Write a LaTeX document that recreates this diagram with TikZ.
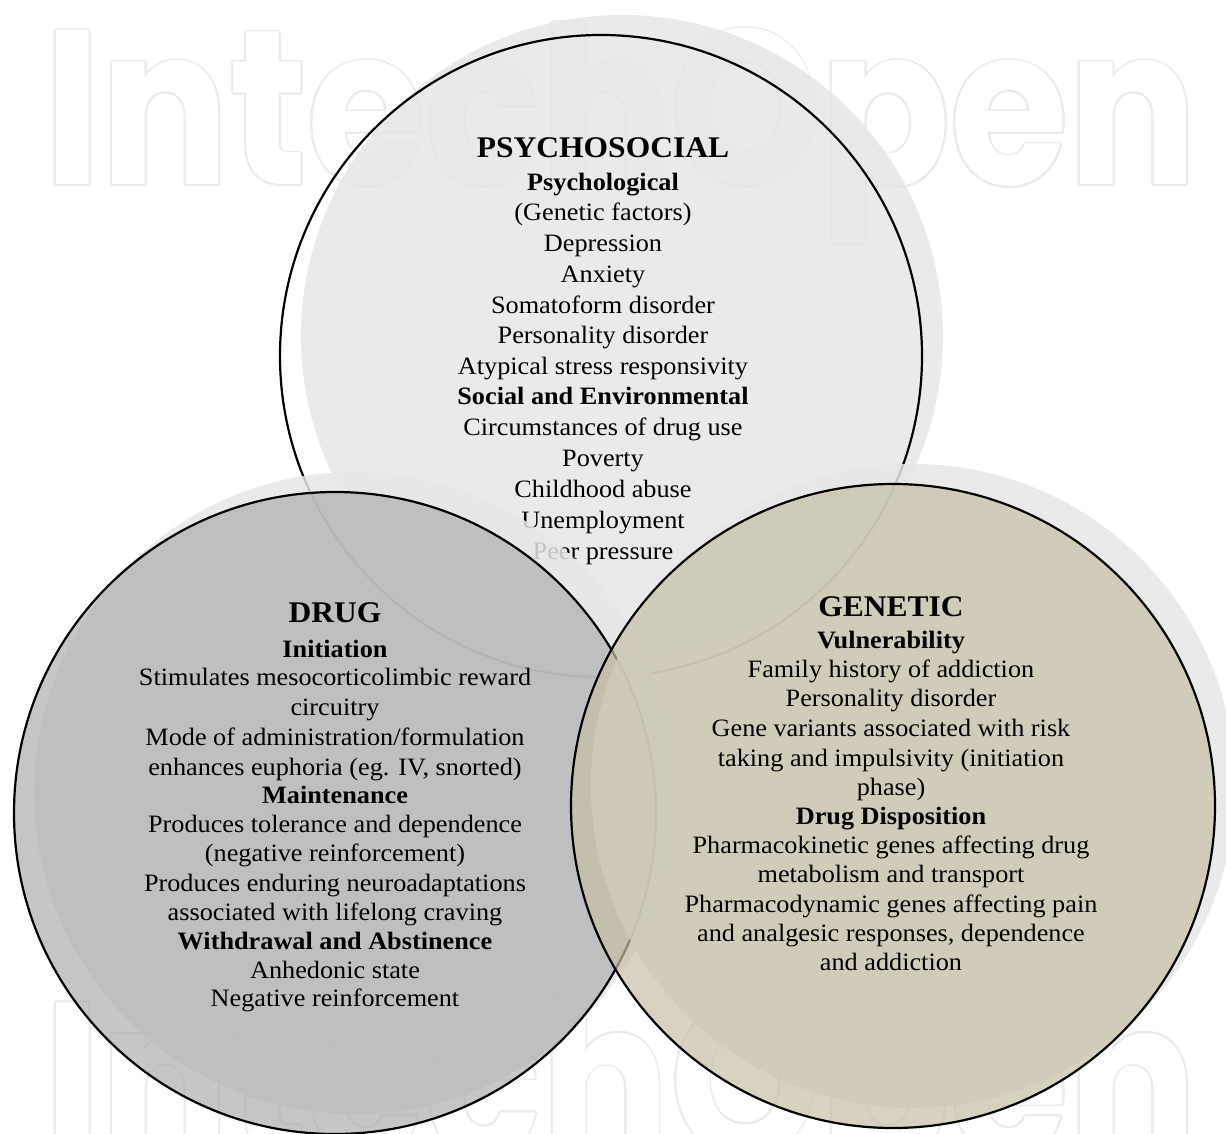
\documentclass[tikz,border=0pt]{standalone}
\usepackage{fontspec}
\setmainfont{Liberation Serif}[FakeStretch=1.05]
\newfontfamily\wmfont{Poppins}[FakeStretch=0.87]
\definecolor{wmline}{HTML}{EAEAEA}
\definecolor{shadowc}{HTML}{E6E6E6}
\definecolor{drugc}{HTML}{AEAEAE}
\definecolor{genc}{HTML}{C6C0A5}
\tikzset{
  body/.style={font=\fontsize{25}{30}\selectfont, inner sep=0pt, anchor=mid},
  circline/.style={draw=black, line width=2.2pt},
  shadowfill/.style={fill=shadowc, fill opacity=0.85},
  wm/.style={font=\wmfont\bfseries\fontsize{220}{220}\selectfont, anchor=base west, inner sep=0pt},
}
\newcommand\hd{\fontsize{30}{30}\selectfont\bfseries}
\begin{document}
\begin{tikzpicture}[x=1pt,y=-1pt]
\useasboundingbox (0,0) rectangle (1226,1134);
\clip (0,0) rectangle (1226,1134);
% watermark: outlined letters (light copies, then a white copy on top)
\foreach \b [count=\k] in {185,1157}{
  \foreach \a [count=\j] in {0,30,...,330}
    \node[wm, text=wmline, xshift={1.8*cos(\a)}, yshift={1.8*sin(\a)}] (wm\k-\j) at (44,\b) {IntechOpen};
  \node[wm, text=white] (wm\k) at (44,\b) {IntechOpen};
}
% psychosocial
\path[shadowfill] (622,336) circle[radius=321];
\draw[circline] (601,356) circle[radius=321];
\foreach[count=\i] \y/\txt in {
  155/{\hd PSYCHOSOCIAL},
  188/{\bfseries Psychological},
  218/{(Genetic factors)},
  249/{Depression},
  280/{Anxiety},
  311/{Somatoform disorder},
  341/{Personality disorder},
  372/{Atypical stress responsivity},
  402/{\bfseries Social and Environmental},
  433/{Circumstances of drug use},
  464/{Poverty},
  495/{Childhood abuse},
  526/{Unemployment},
  557/{Peer pressure}}
  \node[body] (psy\i) at (603,\y) {\txt};
% drug
\path[shadowfill] (355,793) circle[radius=321];
\path[fill=drugc, fill opacity=0.7] (335,813) circle[radius=321];
\draw[circline] (335,813) circle[radius=321];
\foreach[count=\i] \y/\txt in {
  620/{\hd DRUG},
  655/{\bfseries Initiation},
  683/{Stimulates mesocorticolimbic reward},
  713/{circuitry},
  743/{Mode of administration/formulation},
  773/{enhances euphoria (eg. IV, snorted)},
  801/{\bfseries Maintenance},
  830/{Produces tolerance and dependence},
  859/{(negative reinforcement)},
  889/{Produces enduring neuroadaptations},
  918/{associated with lifelong craving},
  947/{\bfseries Withdrawal and Abstinence},
  976/{Anhedonic state},
  1004/{Negative reinforcement}}
  \node[body] (drug\i) at (335,\y) {\txt};
% genetic
\path[shadowfill] (913,786) circle[radius=322];
\path[fill=genc, fill opacity=0.7] (893,806) circle[radius=322];
\draw[circline] (893,806) circle[radius=322];
\foreach[count=\i] \y/\txt in {
  614/{\hd GENETIC},
  646/{\bfseries Vulnerability},
  675/{Family history of addiction},
  704/{Personality disorder},
  734/{Gene variants associated with risk},
  764/{taking and impulsivity (initiation},
  793/{phase)},
  822/{\bfseries Drug Disposition},
  851/{Pharmacokinetic genes affecting drug},
  880/{metabolism and transport},
  910/{Pharmacodynamic genes affecting pain},
  939/{and analgesic responses, dependence},
  968/{and addiction}}
  \node[body] (gen\i) at (891,\y) {\txt};
\end{tikzpicture}
\end{document}
